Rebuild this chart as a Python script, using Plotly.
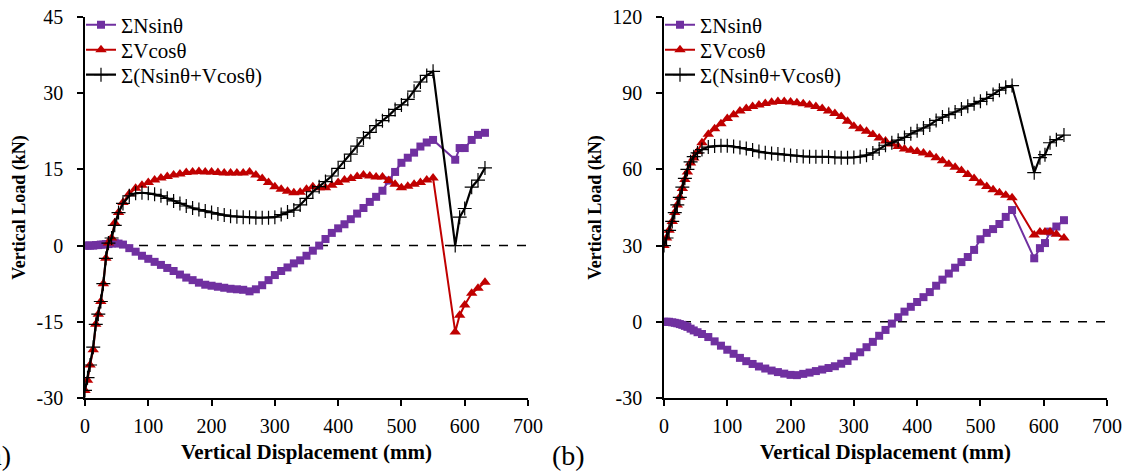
import plotly.graph_objects as go

# ---------------- Data: panel (a) ----------------
disp_a = [0, 4, 8, 13, 17, 21, 25, 29, 33, 37, 42, 47, 53, 60, 70, 80, 90, 100, 110, 120, 130, 140,
          150, 160, 170, 180, 190, 200, 210, 220, 230, 240, 250, 260, 270, 280, 290, 300, 310, 320,
          330, 340, 350, 360, 370, 380, 390, 400, 410, 420, 430, 440, 450, 460, 470, 480, 490, 500,
          510, 520, 530, 540, 550, 585, 592, 600, 611, 621, 632]
nsin_a = [0, 0, 0, 0, 0.1, 0.1, 0.2, 0.2, 0.3, 0.3, 0.4, 0.5, 0.4, 0.2, -0.5, -1.2, -2.0, -2.6, -3.2,
          -3.8, -4.4, -5.0, -5.7, -6.3, -6.8, -7.3, -7.7, -7.9, -8.1, -8.3, -8.5, -8.6, -8.7, -9.0,
          -8.6, -7.8, -6.8, -5.8, -5.0, -4.3, -3.5, -2.9, -2.0, -1.0, 0.0, 1.3, 2.5, 3.4, 4.2, 5.2,
          6.3, 7.4, 8.6, 9.6, 10.8, 12.8, 14.5, 16.3, 17.3, 18.3, 19.5, 20.3, 20.8, 16.9, 19.2, 19.2,
          20.8, 21.8, 22.2]
vcos_a = [-28.5, -26.5, -23.5, -20.5, -15.5, -13.5, -11.0, -7.5, -2.5, 0.5, 1.5, 4.5, 6.5, 8.5, 10.2,
          11.3, 11.9, 12.4, 12.9, 13.3, 13.6, 13.9, 14.1, 14.4, 14.5, 14.6, 14.5, 14.5, 14.4, 14.3,
          14.3, 14.3, 14.3, 14.5, 13.9, 13.2, 12.4, 11.6, 11.1, 10.7, 10.4, 10.5, 11.1, 11.6, 11.4,
          11.4, 11.9, 12.4, 12.9, 13.2, 13.6, 13.9, 13.7, 13.5, 13.5, 12.8, 12.1, 11.4, 11.7, 12.1,
          12.4, 12.9, 13.3, -17.0, -13.7, -11.7, -9.4, -8.4, -7.2]
total_a = [-28.5, -26.0, -23.5, -20.0, -15.5, -13.5, -11.0, -7.5, -2.5, 0.5, 1.5, 4.0, 6.5, 8.3, 9.8,
           10.3, 10.4, 10.3, 10.1, 9.8, 9.3, 8.8, 8.3, 7.8, 7.4, 7.1, 6.8, 6.5, 6.2, 6.0, 5.8, 5.7,
           5.6, 5.6, 5.5, 5.5, 5.5, 5.6, 6.1, 6.6, 7.0, 8.0, 9.3, 10.6, 11.6, 12.6, 13.7, 15.2, 16.6,
           18.0, 19.6, 21.2, 22.3, 23.6, 24.6, 25.6, 26.8, 27.7, 28.8, 30.4, 32.2, 33.5, 34.3, 0.0,
           5.6, 7.3, 11.5, 12.9, 15.3]

# ---------------- Data: panel (b) ----------------
disp_b = [0, 4, 8, 13, 17, 21, 25, 29, 33, 37, 42, 47, 53, 60, 70, 80, 90, 100, 110, 120, 130, 140,
          150, 160, 170, 180, 190, 200, 210, 220, 230, 240, 250, 260, 270, 280, 290, 300, 310, 320,
          330, 340, 350, 360, 370, 380, 390, 400, 410, 420, 430, 440, 450, 460, 470, 480, 490, 500,
          510, 520, 530, 540, 550, 585, 594, 602, 610, 620, 632]
nsin_b = [0, 0, 0, -0.2, -0.4, -0.6, -0.9, -1.2, -1.6, -2.0, -2.7, -3.4, -4.1, -4.8, -6.0, -7.7, -9.4,
          -11.0, -12.6, -14.2, -15.5, -16.6, -17.6, -18.4, -19.2, -19.8, -20.4, -20.9, -21.0, -20.5,
          -20.0, -19.4, -18.8, -18.2, -17.5, -16.5, -15.4, -13.6, -12.0, -10.0, -7.9, -5.5, -3.2,
          -0.7, 1.8, 4.0, 5.9, 7.8, 9.7, 11.7, 14.2, 16.6, 19.0, 21.3, 23.5, 25.5, 28.3, 32.5, 35.0,
          36.5, 38.5, 41.3, 44.0, 25.0, 29.0, 31.0, 35.5, 37.5, 40.0]
vcos_b = [30.0, 33.0, 36.0, 39.5, 43.0, 46.0, 49.0, 52.5, 56.0, 59.0, 62.5, 64.5, 67.0, 70.5, 73.8,
          76.0, 78.0, 80.0, 81.5, 83.0, 84.0, 84.8, 85.4, 85.9, 86.4, 86.7, 86.7, 86.5, 86.2, 85.8,
          85.4, 84.8, 84.0, 83.0, 82.0, 80.8, 79.0, 77.0, 76.0, 75.0, 73.7, 72.4, 71.2, 70.0, 69.0,
          68.0, 67.5, 67.0, 66.5, 65.8, 64.6, 63.4, 62.0, 60.8, 59.6, 58.0, 56.4, 54.6, 53.3, 52.0,
          50.8, 49.8, 48.8, 34.2, 35.4, 35.4, 35.4, 34.5, 33.0]
total_b = [30.0, 33.0, 36.0, 39.5, 43.0, 46.0, 49.0, 53.0, 56.5, 60.0, 63.0, 65.0, 66.5, 67.8, 68.8,
           69.2, 69.3, 69.3, 69.0, 68.6, 68.2, 67.6, 67.0, 66.6, 66.3, 66.1, 65.8, 65.5, 65.3, 65.1,
           65.0, 65.0, 65.0, 64.9, 64.7, 64.6, 64.6, 64.7, 65.0, 65.6, 66.5, 68.0, 69.5, 70.5, 71.5,
           72.6, 74.0, 75.2, 76.3, 77.5, 79.3, 80.6, 81.6, 82.6, 83.8, 84.9, 85.8, 86.8, 88.0, 89.5,
           91.2, 92.3, 93.0, 58.7, 64.6, 65.8, 70.5, 71.7, 73.5]

names = ["ΣNsinθ", "ΣVcosθ", "Σ(Nsinθ+Vcosθ)"]
x_ticks = [0, 100, 200, 300, 400, 500, 600, 700]
y_ticks_a = [-30, -15, 0, 15, 30, 45]
y_ticks_b = [-30, 0, 30, 60, 90, 120]

PURPLE = "#7030A0"
RED = "#C00000"
FONT = "Liberation Serif, Times New Roman, serif"

fig = go.Figure()


def add_panel(disp, nsin, vcos, total, xa, ya, legends):
    fig.add_trace(go.Scatter(x=disp, y=nsin, name=names[0], mode="lines+markers", xaxis=xa, yaxis=ya,
                             legend=legends[0], showlegend=True,
                             line=dict(color=PURPLE, width=2),
                             marker=dict(symbol="square", size=8, color=PURPLE)))
    fig.add_trace(go.Scatter(x=disp, y=vcos, name=names[1], mode="lines+markers", xaxis=xa, yaxis=ya,
                             legend=legends[1], showlegend=True,
                             line=dict(color=RED, width=2),
                             marker=dict(symbol="triangle-up", size=10, color=RED)))
    fig.add_trace(go.Scatter(x=disp, y=total, name=names[2], mode="lines+markers", xaxis=xa, yaxis=ya,
                             legend=legends[2], showlegend=True,
                             line=dict(color="black", width=2.2),
                             marker=dict(symbol="cross-thin", size=10, color="black",
                                         line=dict(color="black", width=1.2))))


add_panel(disp_a, nsin_a, vcos_a, total_a, "x", "y", ["legend", "legend2", "legend3"])
add_panel(disp_b, nsin_b, vcos_b, total_b, "x2", "y2", ["legend4", "legend5", "legend6"])

# zero reference lines
for xr, yr in (("x", "y"), ("x2", "y2")):
    fig.add_shape(type="line", xref=xr, yref=yr, x0=0, x1=700, y0=0, y1=0,
                  line=dict(color="black", width=1.5, dash="dash"), layer="below")

W, H = 1131, 473
PLOT_TOP, PLOT_BOTTOM = 17, 398
axis_common = dict(showline=True, linecolor="black", linewidth=1.5, ticks="outside", ticklen=6,
                   tickwidth=1.5, tickcolor="black", showgrid=False, zeroline=False,
                   automargin=False,
                   tickfont=dict(family=FONT, size=20, color="black"))
xtitle_font = dict(family=FONT, size=21, color="black")
ytitle_font = dict(family=FONT, size=18, color="black")


def labels(vals):
    return [str(v) for v in vals]


def legend_at(x_px, y_px):
    return dict(x=x_px / W, y=(PLOT_BOTTOM - y_px) / (PLOT_BOTTOM - PLOT_TOP),
                xanchor="left", yanchor="middle", bgcolor="rgba(0,0,0,0)", visible=True,
                font=dict(family=FONT, size=21, color="black"), itemwidth=30)


row_y = [25, 50, 75]

fig.update_layout(
    width=W, height=H,
    showlegend=True,
    margin=dict(l=0, r=0, t=PLOT_TOP, b=H - PLOT_BOTTOM, autoexpand=False),
    paper_bgcolor="white", plot_bgcolor="white",
    xaxis=dict(domain=[85 / W, 528 / W], range=[0, 700], tickvals=x_ticks, ticktext=labels(x_ticks),
               anchor="y", ticklabelstandoff=3,
               title=dict(text="<b>Vertical Displacement (mm)</b>", font=xtitle_font, standoff=9),
               **axis_common),
    yaxis=dict(domain=[0, 1], range=[-30, 45], tickvals=y_ticks_a, ticktext=labels(y_ticks_a),
               anchor="x", ticklabelstandoff=10,
               title=dict(text="<b>Vertical Load (kN)</b>", font=ytitle_font, standoff=6),
               **axis_common),
    xaxis2=dict(domain=[664 / W, 1107 / W], range=[0, 700], tickvals=x_ticks,
                ticktext=labels(x_ticks), anchor="y2", ticklabelstandoff=3,
                title=dict(text="<b>Vertical Displacement (mm)</b>", font=xtitle_font, standoff=9),
                **axis_common),
    yaxis2=dict(domain=[0, 1], range=[-30, 120], tickvals=y_ticks_b, ticktext=labels(y_ticks_b),
                anchor="x2", ticklabelstandoff=10,
                title=dict(text="<b>Vertical Load (kN)</b>", font=ytitle_font, standoff=6),
                **axis_common),
    legend=legend_at(81, row_y[0]),
    legend2=legend_at(81, row_y[1]),
    legend3=legend_at(81, row_y[2]),
    legend4=legend_at(660, row_y[0]),
    legend5=legend_at(660, row_y[1]),
    legend6=legend_at(660, row_y[2]),
    annotations=[
        dict(text="(a)", xref="paper", yref="paper", x=13 / W, y=-0.15, xanchor="right",
             yanchor="middle", showarrow=False, font=dict(family=FONT, size=28, color="black")),
        dict(text="(b)", xref="paper", yref="paper", x=587 / W, y=-0.15, xanchor="right",
             yanchor="middle", showarrow=False, font=dict(family=FONT, size=28, color="black")),
    ],
)

# remove the default page margin so the figure sits at the window's top-left corner
fig.write_html("out.html", config={"displayModeBar": False},
               post_script="document.body.style.margin='0';")
